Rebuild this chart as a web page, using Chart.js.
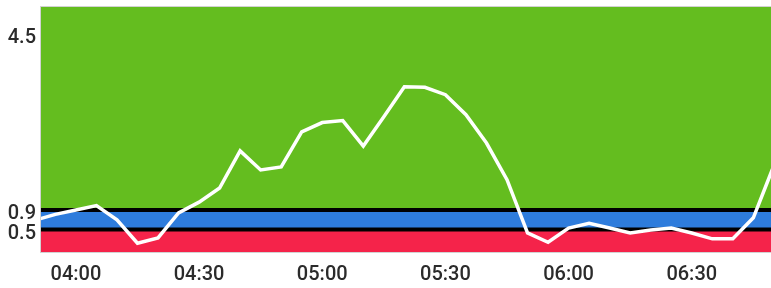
<!DOCTYPE html>
<html>
<head>
<meta charset="utf-8">
<script src="https://cdn.jsdelivr.net/npm/chart.js@4/dist/chart.umd.min.js"></script>
<style>
  html, body { margin: 0; padding: 0; background: #ffffff; }
  canvas { display: block; }
</style>
</head>
<body>
<canvas id="c" width="771" height="288"></canvas>
<script>
// ---- data ----
const times = ['03:50','03:55','04:00','04:05','04:10','04:15','04:20','04:25','04:30','04:35',
               '04:40','04:45','04:50','04:55','05:00','05:05','05:10','05:15','05:20','05:25',
               '05:30','05:35','05:40','05:45','05:50','05:55','06:00','06:05','06:10','06:15',
               '06:20','06:25','06:30','06:35','06:40','06:45','06:50'];
const values = [0.69, 0.81, 0.90, 0.99, 0.70, 0.22, 0.33, 0.84, 1.06, 1.35,
                2.11, 1.72, 1.78, 2.50, 2.69, 2.73, 2.21, 2.81, 3.42, 3.41,
                3.26, 2.85, 2.27, 1.52, 0.43, 0.24, 0.53, 0.63, 0.53, 0.43,
                0.49, 0.53, 0.43, 0.31, 0.31, 0.74, 1.81];
const xTickLabels = ['04:00','04:30','05:00','05:30','06:00','06:30'];
const yTickValues = [0.5, 0.9, 4.5];
const lowThreshold = [0.5];
const highThreshold = [0.9];
const xAxisRange = ['03:51:30', '06:49:18'];
const yAxisRange = [0.04, 5.055];

// ---- helpers ----
function toMinutes(s) {
  const p = s.split(':').map(Number);
  return p[0] * 60 + p[1] + (p[2] || 0) / 60;
}
function fmt(m) {
  const h = Math.floor(m / 60), mm = Math.round(m - h * 60);
  return String(h).padStart(2, '0') + ':' + String(mm).padStart(2, '0');
}
const xMin = toMinutes(xAxisRange[0]);
const xMax = toMinutes(xAxisRange[1]);
const linePts = times.map((t, i) => ({ x: toMinutes(t), y: values[i] }));
const band = v => [{ x: xMin, y: v }, { x: xMax, y: v }];

const borderPlugin = {
  id: 'areaBorder',
  afterDatasetsDraw(chart) {
    const a = chart.chartArea, ctx = chart.ctx;
    ctx.save();
    ctx.strokeStyle = '#d2d2d2';
    ctx.lineWidth = 1;
    ctx.strokeRect(a.left - 0.5, a.top - 0.5, a.right - a.left + 1, a.bottom - a.top + 1);
    ctx.restore();
  }
};

const tickFont = { family: 'Roboto', size: 20, weight: '500' };

new Chart(document.getElementById('c'), {
  type: 'line',
  data: {
    datasets: [
      { data: linePts, borderColor: '#ffffff', borderWidth: 3.5, pointRadius: 0,
        fill: false, tension: 0, clip: 0, order: 0 },
      { data: band(lowThreshold[0]), borderColor: '#000000', borderWidth: 4, pointRadius: 0,
        backgroundColor: '#F5234A', fill: 'start', clip: 0, order: 1 },
      { data: band(highThreshold[0]), borderColor: '#000000', borderWidth: 4, pointRadius: 0,
        backgroundColor: '#64BD1F', fill: 'end', clip: 0, order: 2 },
      { data: band(highThreshold[0]), borderWidth: 0, pointRadius: 0,
        backgroundColor: '#2E7CDC', fill: 'start', clip: 0, order: 3 }
    ]
  },
  options: {
    responsive: false,
    animation: false,
    layout: { padding: { top: 7, right: 0, bottom: 3, left: 0 } },
    plugins: { legend: { display: false }, tooltip: { enabled: false } },
    scales: {
      x: {
        type: 'linear',
        min: xMin, max: xMax,
        grid: { display: false, drawTicks: false },
        border: { display: false },
        afterBuildTicks: s => { s.ticks = xTickLabels.map(l => ({ value: toMinutes(l) })); },
        afterFit: s => { s.paddingLeft = 0; s.paddingRight = 0; s.height = 33; },
        ticks: {
          autoSkip: false, maxRotation: 0, padding: 11,
          color: '#2b2b2b',
          font: tickFont,
          callback: v => fmt(v)
        }
      },
      y: {
        min: yAxisRange[0], max: yAxisRange[1],
        grid: { display: false, drawTicks: false },
        border: { display: false },
        afterBuildTicks: s => { s.ticks = yTickValues.map(v => ({ value: v })); },
        afterFit: s => { s.width = 41; s.paddingTop = 0; s.paddingBottom = 0; },
        ticks: {
          autoSkip: false, padding: 5, labelOffset: 4,
          color: '#2b2b2b',
          font: tickFont,
          callback: v => String(v)
        }
      }
    }
  },
  plugins: [borderPlugin]
});
</script>
</body>
</html>
